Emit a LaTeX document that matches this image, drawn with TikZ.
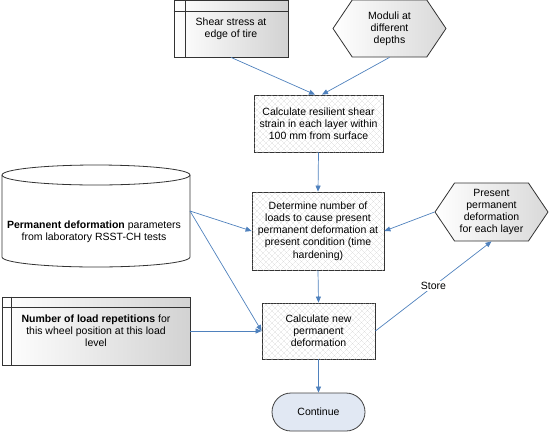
\documentclass[tikz,border=0pt]{standalone}
\usepackage{fontspec}
\setmainfont{Liberation Sans}
\usetikzlibrary{arrows.meta,shapes.misc,shapes.symbols,patterns.meta}
\definecolor{linkblue}{HTML}{4F81BD}
\definecolor{contfill}{HTML}{E1E8F3}

\begin{document}
\begin{tikzpicture}[x=1pt,y=-1pt,
    font=\fontsize{10.5}{12.2}\selectfont,
    every node/.style={align=center,inner sep=0pt},
    link/.style={draw=linkblue,line width=0.7pt,-{Triangle[length=6pt,width=5pt]}},
    procbox/.style={draw=black!80,line width=0.8pt,fill=white,
      postaction={pattern={Lines[angle=45,distance=4pt,line width=0.25pt]},pattern color=gray!45},
      postaction={pattern={Lines[angle=-45,distance=4pt,line width=0.25pt]},pattern color=gray!45},
      minimum width=131pt},
    inbox/.style={draw=black!80,line width=0.8pt,left color=white,right color=gray!35},
    hexbox/.style={shape=signal,signal to=west and east,signal pointer angle=112,
      draw=black!80,line width=0.8pt,left color=white,right color=gray!30,
      minimum width=113pt,minimum height=57pt}]
  \useasboundingbox (0,0) rectangle (549,432);

  % Inputs at the top
  \node[inbox,minimum width=114pt,minimum height=57pt] (shear) at (231,28.5) {Shear stress at\\edge of tire};
  \draw[black!80,line width=0.8pt] (shear.north west) ++(0,12) -- ++(114,0);
  \draw[black!80,line width=0.8pt] (shear.north west) ++(12,0) -- ++(0,57);
  \node[hexbox] (moduli) at (389.5,28.5) {Moduli at\\different\\depths};

  % Process boxes
  \node[procbox,minimum width=129pt,minimum height=57pt] (resil) at (318.5,123.5) {Calculate resilient shear\\strain in each layer within\\100 mm from surface};
  \node[procbox,minimum width=132pt,minimum height=78pt] (determ) at (318,231) {Determine number of\\loads to cause present\\permanent deformation at\\present condition (time\\hardening)};
  \node[procbox,minimum width=113pt,minimum height=56pt] (calcnew) at (318.5,331) {Calculate new\\permanent\\deformation};

  % Storage for present deformation
  \node[hexbox,minimum height=58pt] (present) at (491.5,212) {Present\\permanent\\deformation\\for each layer};

  % Cylinder with the test parameters
  \draw[black!80,line width=0.8pt,fill=white] (2,175) -- (2,257) arc[start angle=180,end angle=0,x radius=94,y radius=10]
    -- (190,175) arc[start angle=0,end angle=-180,x radius=94,y radius=10] -- cycle;
  \draw[black!80,line width=0.8pt] (2,175) arc[start angle=180,end angle=0,x radius=94,y radius=10];
  \node (perm) at (94,232) {\textbf{Permanent deformation} parameters\\from laboratory RSST-CH tests};
  \coordinate (permout) at (190,211);

  % Load repetitions
  \node[inbox,minimum width=188pt,minimum height=68pt] (reps) at (96,331) {};
  \draw[black!80,line width=0.8pt] (reps.north west) ++(0,11) -- ++(188,0);
  \draw[black!80,line width=0.8pt] (reps.north west) ++(10,0) -- ++(0,68);
  \node at (96,331) {\textbf{Number of load repetitions} for\\this wheel position at this load\\level};

  % End
  \node[shape=rounded rectangle,draw=black!75,line width=0.8pt,fill=contfill,
    minimum width=93pt,minimum height=38pt] (cont) at (318.5,412) {Continue};

  % Connectors
  \draw[link] (shear.south) -- ([xshift=-3.5pt]resil.north);
  \draw[link] (moduli.south) -- ([xshift=3.5pt]resil.north);
  \draw[link] (resil.south) -- (determ.north);
  \draw[link] (permout) -- (determ.west);
  \draw[link] (present.west) -- (determ.east);
  \draw[link] (determ.south) -- (calcnew.north);
  \draw[link] (permout) -- (calcnew.west);
  \draw[link] (reps.east) -- (calcnew.west);
  \draw[link] (calcnew.east) -- node[fill=white,inner sep=1pt] {Store} (present.south);
  \draw[link] (calcnew.south) -- (cont.north);
\end{tikzpicture}
\end{document}
